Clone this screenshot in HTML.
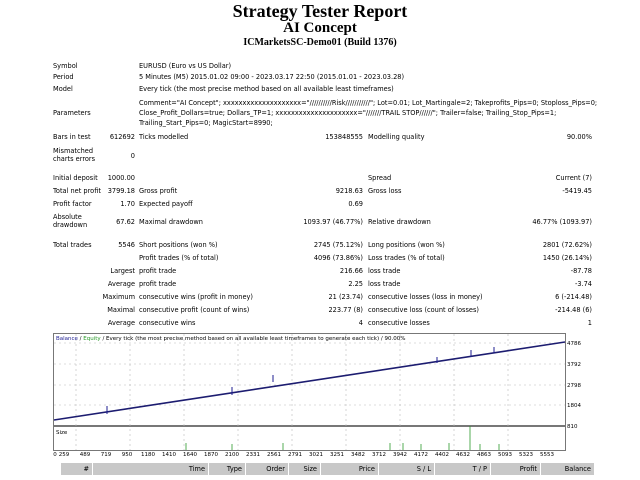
<!DOCTYPE html><html><head><meta charset="utf-8"><style>
body{margin:0;width:640px;height:480px;background:#fff;position:relative;overflow:hidden;font-family:"DejaVu Sans","Liberation Sans",sans-serif;font-size:6.6px;color:#000}
.t{position:absolute;white-space:nowrap}
.r{position:absolute;white-space:nowrap;text-align:right}
.h{font-family:"Liberation Serif",serif;font-weight:bold;position:absolute;width:640px;text-align:center}
.th{position:absolute;top:463px;height:12px;background:#c8c8c8;line-height:12px;text-align:right;box-sizing:border-box;padding-right:3px}
</style></head><body>
<div class="h" style="top:1px;font-size:18px">Strategy Tester Report</div>
<div class="h" style="top:20px;font-size:15px">AI Concept</div>
<div class="h" style="top:37px;font-size:10px">ICMarketsSC-Demo01 (Build 1376)</div>

<div class="t" style="left:53px;top:62px">Symbol</div><div class="t" style="left:139px;top:62px">EURUSD (Euro vs US Dollar)</div>
<div class="t" style="left:53px;top:73px">Period</div><div class="t" style="left:139px;top:73px">5 Minutes (M5) 2015.01.02 09:00 - 2023.03.17 22:50 (2015.01.01 - 2023.03.28)</div>
<div class="t" style="left:53px;top:85px">Model</div><div class="t" style="left:139px;top:85px">Every tick (the most precise method based on all available least timeframes)</div>
<div class="t" style="left:53px;top:109px">Parameters</div>
<div class="t" style="left:139px;top:99px">Comment="AI Concept"; xxxxxxxxxxxxxxxxxxxx="//////////Risk///////////"; Lot=0.01; Lot_Martingale=2; Takeprofits_Pips=0; Stoploss_Pips=0;</div>
<div class="t" style="left:139px;top:109px">Close_Profit_Dollars=true; Dollars_TP=1; xxxxxxxxxxxxxxxxxxxxx="///////TRAIL STOP//////"; Trailer=false; Trailing_Stop_Pips=1;</div>
<div class="t" style="left:139px;top:119px">Trailing_Start_Pips=0; MagicStart=8990;</div>

<div class="t" style="left:53px;top:133px">Bars in test</div><div class="r" style="right:505px;top:133px">612692</div>
<div class="t" style="left:139px;top:133px">Ticks modelled</div><div class="r" style="right:277px;top:133px">153848555</div>
<div class="t" style="left:368px;top:133px">Modelling quality</div><div class="r" style="right:48px;top:133px">90.00%</div>
<div class="t" style="left:53px;top:147px;line-height:8px">Mismatched<br>charts errors</div><div class="r" style="right:505px;top:152px">0</div>

<div class="t" style="left:53px;top:174px">Initial deposit</div><div class="r" style="right:505px;top:174px">1000.00</div>
<div class="t" style="left:368px;top:174px">Spread</div><div class="r" style="right:48px;top:174px">Current (7)</div>
<div class="t" style="left:53px;top:187px">Total net profit</div><div class="r" style="right:505px;top:187px">3799.18</div>
<div class="t" style="left:139px;top:187px">Gross profit</div><div class="r" style="right:277px;top:187px">9218.63</div>
<div class="t" style="left:368px;top:187px">Gross loss</div><div class="r" style="right:48px;top:187px">-5419.45</div>
<div class="t" style="left:53px;top:200px">Profit factor</div><div class="r" style="right:505px;top:200px">1.70</div>
<div class="t" style="left:139px;top:200px">Expected payoff</div><div class="r" style="right:277px;top:200px">0.69</div>
<div class="t" style="left:53px;top:213px;line-height:8px">Absolute<br>drawdown</div><div class="r" style="right:505px;top:218px">67.62</div>
<div class="t" style="left:139px;top:218px">Maximal drawdown</div><div class="r" style="right:277px;top:218px">1093.97 (46.77%)</div>
<div class="t" style="left:368px;top:218px">Relative drawdown</div><div class="r" style="right:48px;top:218px">46.77% (1093.97)</div>

<div class="t" style="left:53px;top:241px">Total trades</div><div class="r" style="right:505px;top:241px">5546</div>
<div class="t" style="left:139px;top:241px">Short positions (won %)</div><div class="r" style="right:277px;top:241px">2745 (75.12%)</div>
<div class="t" style="left:368px;top:241px">Long positions (won %)</div><div class="r" style="right:48px;top:241px">2801 (72.62%)</div>
<div class="t" style="left:139px;top:254px">Profit trades (% of total)</div><div class="r" style="right:277px;top:254px">4096 (73.86%)</div>
<div class="t" style="left:368px;top:254px">Loss trades (% of total)</div><div class="r" style="right:48px;top:254px">1450 (26.14%)</div>
<div class="r" style="right:505px;top:267px">Largest</div><div class="t" style="left:139px;top:267px">profit trade</div><div class="r" style="right:277px;top:267px">216.66</div>
<div class="t" style="left:368px;top:267px">loss trade</div><div class="r" style="right:48px;top:267px">-87.78</div>
<div class="r" style="right:505px;top:280px">Average</div><div class="t" style="left:139px;top:280px">profit trade</div><div class="r" style="right:277px;top:280px">2.25</div>
<div class="t" style="left:368px;top:280px">loss trade</div><div class="r" style="right:48px;top:280px">-3.74</div>
<div class="r" style="right:505px;top:293px">Maximum</div><div class="t" style="left:139px;top:293px">consecutive wins (profit in money)</div><div class="r" style="right:277px;top:293px">21 (23.74)</div>
<div class="t" style="left:368px;top:293px">consecutive losses (loss in money)</div><div class="r" style="right:48px;top:293px">6 (-214.48)</div>
<div class="r" style="right:505px;top:306px">Maximal</div><div class="t" style="left:139px;top:306px">consecutive profit (count of wins)</div><div class="r" style="right:277px;top:306px">223.77 (8)</div>
<div class="t" style="left:368px;top:306px">consecutive loss (count of losses)</div><div class="r" style="right:48px;top:306px">-214.48 (6)</div>
<div class="r" style="right:505px;top:319px">Average</div><div class="t" style="left:139px;top:319px">consecutive wins</div><div class="r" style="right:277px;top:319px">4</div>
<div class="t" style="left:368px;top:319px">consecutive losses</div><div class="r" style="right:48px;top:319px">1</div>

<svg style="position:absolute;left:0;top:0" width="640" height="480" font-family="DejaVu Sans,Liberation Sans,sans-serif" font-size="5.5">
<rect x="53.5" y="333.5" width="512" height="92" fill="#fff" stroke="#777"/>
<rect x="53.5" y="426.5" width="512" height="24" fill="#fff" stroke="#777"/>
<g stroke="#bbb" stroke-dasharray="2,3" stroke-width="0.6">
<line x1="54" y1="343" x2="565" y2="343"/><line x1="54" y1="364" x2="565" y2="364"/><line x1="54" y1="385" x2="565" y2="385"/><line x1="54" y1="405" x2="565" y2="405"/>
<line x1="76" y1="334" x2="76" y2="450"/><line x1="130" y1="334" x2="130" y2="450"/><line x1="184" y1="334" x2="184" y2="450"/><line x1="238" y1="334" x2="238" y2="450"/><line x1="292" y1="334" x2="292" y2="450"/><line x1="346" y1="334" x2="346" y2="450"/><line x1="400" y1="334" x2="400" y2="450"/><line x1="454" y1="334" x2="454" y2="450"/><line x1="508" y1="334" x2="508" y2="450"/>
</g>
<line x1="54" y1="420" x2="565" y2="342" stroke="#1c1c70" stroke-width="1.6"/>
<g stroke="#1c1c90" stroke-width="1"><line x1="107" y1="406" x2="107" y2="414"/><line x1="232" y1="387" x2="232" y2="395"/><line x1="273" y1="375" x2="273" y2="382"/><line x1="437" y1="357" x2="437" y2="363"/><line x1="471" y1="350" x2="471" y2="357"/><line x1="494" y1="347" x2="494" y2="353"/></g>
<g stroke="#2a9a2a" stroke-width="0.8"><line x1="470" y1="426" x2="470" y2="450"/><line x1="186" y1="443" x2="186" y2="450"/><line x1="232" y1="444" x2="232" y2="450"/><line x1="283" y1="443" x2="283" y2="450"/><line x1="390" y1="443" x2="390" y2="450"/><line x1="403" y1="443" x2="403" y2="450"/><line x1="421" y1="444" x2="421" y2="450"/><line x1="449" y1="443" x2="449" y2="450"/><line x1="480" y1="444" x2="480" y2="450"/><line x1="499" y1="444" x2="499" y2="450"/></g>
<text x="56" y="340" fill="#000"><tspan fill="#1c1c90">Balance</tspan> / <tspan fill="#2a9a2a">Equity</tspan> / Every tick (the most precise method based on all available least timeframes to generate each tick) / 90.00%</text>
<text x="56" y="434">Size</text>
<g text-anchor="start"><text x="567" y="345">4786</text><text x="567" y="366">3792</text><text x="567" y="387">2798</text><text x="567" y="407">1804</text><text x="567" y="428">810</text></g>
<g text-anchor="middle">
<text x="55" y="456">0</text><text x="64" y="456">259</text><text x="85" y="456">489</text><text x="106" y="456">719</text><text x="127" y="456">950</text><text x="148" y="456">1180</text><text x="169" y="456">1410</text><text x="190" y="456">1640</text><text x="211" y="456">1870</text><text x="232" y="456">2100</text><text x="253" y="456">2331</text><text x="274" y="456">2561</text><text x="295" y="456">2791</text><text x="316" y="456">3021</text><text x="337" y="456">3251</text><text x="358" y="456">3482</text><text x="379" y="456">3712</text><text x="400" y="456">3942</text><text x="421" y="456">4172</text><text x="442" y="456">4402</text><text x="463" y="456">4632</text><text x="484" y="456">4863</text><text x="505" y="456">5093</text><text x="526" y="456">5323</text><text x="547" y="456">5553</text>
</g>
</svg>

<div class="th" style="left:61px;width:31px">#</div>
<div class="th" style="left:93px;width:115px">Time</div>
<div class="th" style="left:209px;width:36px">Type</div>
<div class="th" style="left:246px;width:42px">Order</div>
<div class="th" style="left:289px;width:31px">Size</div>
<div class="th" style="left:321px;width:57px">Price</div>
<div class="th" style="left:379px;width:55px">S / L</div>
<div class="th" style="left:435px;width:55px">T / P</div>
<div class="th" style="left:491px;width:49px">Profit</div>
<div class="th" style="left:541px;width:53px">Balance</div>
</body></html>
